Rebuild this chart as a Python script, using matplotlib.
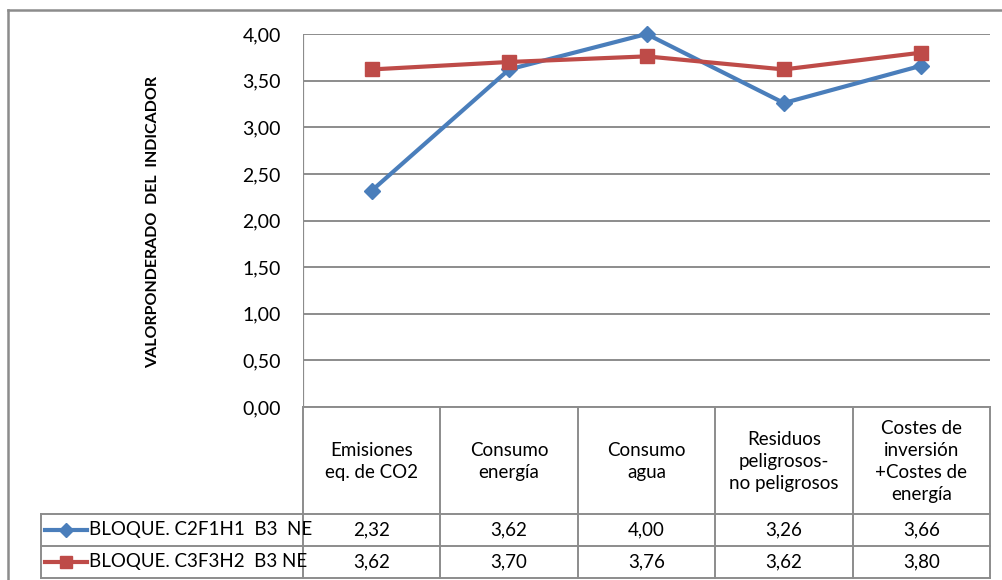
import matplotlib
matplotlib.use("Agg")
import matplotlib.pyplot as plt
from matplotlib.lines import Line2D
from matplotlib.transforms import blended_transform_factory

plt.rcParams['font.family'] = ['Lato', 'DejaVu Sans']

categories = ["Emisiones\neq. de CO2", "Consumo\nenergía", "Consumo\nagua",
              "Residuos\npeligrosos-\nno peligrosos",
              "Costes de\ninversión\n+Costes de\nenergía"]
series_names = ["BLOQUE. C2F1H1  B3  NE", "BLOQUE. C3F3H2  B3 NE"]
bloque_c2f1h1 = [2.32, 3.62, 4.00, 3.26, 3.66]
bloque_c3f3h2 = [3.62, 3.70, 3.76, 3.62, 3.80]
y_ticks = [0.0, 0.5, 1.0, 1.5, 2.0, 2.5, 3.0, 3.5, 4.0]
y_label = "VALORPONDERADO  DEL  INDICADOR"

FS = 13.5

W, H = 1003, 580
fig = plt.figure(figsize=(W / 100, H / 100), dpi=100)

def fx(x):
    return x / W

def fy(y):
    return 1 - y / H

GRID = "#8c8c8c"
BLUE = "#4a7ebb"
RED = "#be4b48"

# plot area in pixel coordinates
L, R, T, B = 303, 990, 34, 407
ax = fig.add_axes([fx(L), fy(B), fx(R) - fx(L), fy(T) - fy(B)])
ax.set_xlim(-0.5, len(categories) - 0.5)
ax.set_ylim(0, 4)
ax.set_yticks(y_ticks)
ax.set_yticklabels([f"{v:.2f}".replace(".", ",") for v in y_ticks], fontsize=FS + 0.5)
ax.tick_params(axis="y", length=0, pad=16)
ax.set_xticks([])
for s in ax.spines.values():
    s.set_visible(False)
ax.grid(axis="y", color=GRID, linewidth=1.4)
ax.set_axisbelow(True)
ax.axvline(-0.5, color=GRID, linewidth=1.6)

xs = list(range(len(categories)))
ax.plot(xs, bloque_c2f1h1, color=BLUE, linewidth=3, marker="D", markersize=8.5,
        markerfacecolor=BLUE, markeredgecolor=BLUE, zorder=3, clip_on=False)
ax.plot(xs, bloque_c3f3h2, color=RED, linewidth=3, marker="s", markersize=10,
        markerfacecolor=RED, markeredgecolor=RED, zorder=4, clip_on=False)

fig.text(fx(153), fy(222), y_label, rotation=90, fontsize=11.5,
         fontweight="bold", ha="center", va="center")

# outer chart border
fig.add_artist(Line2D([fx(8), fx(8)], [fy(10), fy(H + 5)], color=GRID, linewidth=1.8))
fig.add_artist(Line2D([fx(8), fx(W + 5)], [fy(10), fy(10)], color=GRID, linewidth=1.8))

# data table
row1_top, row2_top, table_bottom = 514, 546, 578
leg_left = 41
col_edges_data = [i - 0.5 for i in range(len(categories) + 1)]
trans = blended_transform_factory(ax.transData, fig.transFigure)

def hline(x0, x1, y):
    fig.add_artist(Line2D([fx(x0), fx(x1)], [fy(y), fy(y)], color=GRID, linewidth=1.4))

def vline(x, y0, y1):
    fig.add_artist(Line2D([fx(x), fx(x)], [fy(y0), fy(y1)], color=GRID, linewidth=1.4))

hline(L, R, B)
for yy in (row1_top, row2_top, table_bottom):
    hline(leg_left, R, yy)
vline(leg_left, row1_top, table_bottom)
for e in col_edges_data:
    xpix = ax.transData.transform((e, 0))[0]
    fig.add_artist(Line2D([xpix / W, xpix / W], [fy(B), fy(table_bottom)],
                          color=GRID, linewidth=1.4))

for i, cat in enumerate(categories):
    ax.text(i, fy((B + row1_top) / 2 + 1), cat, transform=trans, ha="center",
            va="center", fontsize=FS, linespacing=1.38)

rows = [(bloque_c2f1h1, BLUE, "D", 7, row1_top, row2_top),
        (bloque_c3f3h2, RED, "s", 9, row2_top, table_bottom)]
for (vals, col, mk, ms, y0, y1), name in zip(rows, series_names):
    yc = (y0 + y1) / 2
    fig.add_artist(Line2D([fx(45), fx(87)], [fy(yc), fy(yc)], color=col, linewidth=3))
    fig.add_artist(Line2D([fx(66)], [fy(yc)], color=col, marker=mk, markersize=ms,
                          markerfacecolor=col, markeredgecolor=col, linestyle="none"))
    fig.text(fx(89), fy(yc), name, ha="left", va="center", fontsize=FS)
    for i, v in enumerate(vals):
        ax.text(i, fy(yc), f"{v:.2f}".replace(".", ","), transform=trans,
                ha="center", va="center", fontsize=FS)

fig.savefig("out.png", dpi=100)
